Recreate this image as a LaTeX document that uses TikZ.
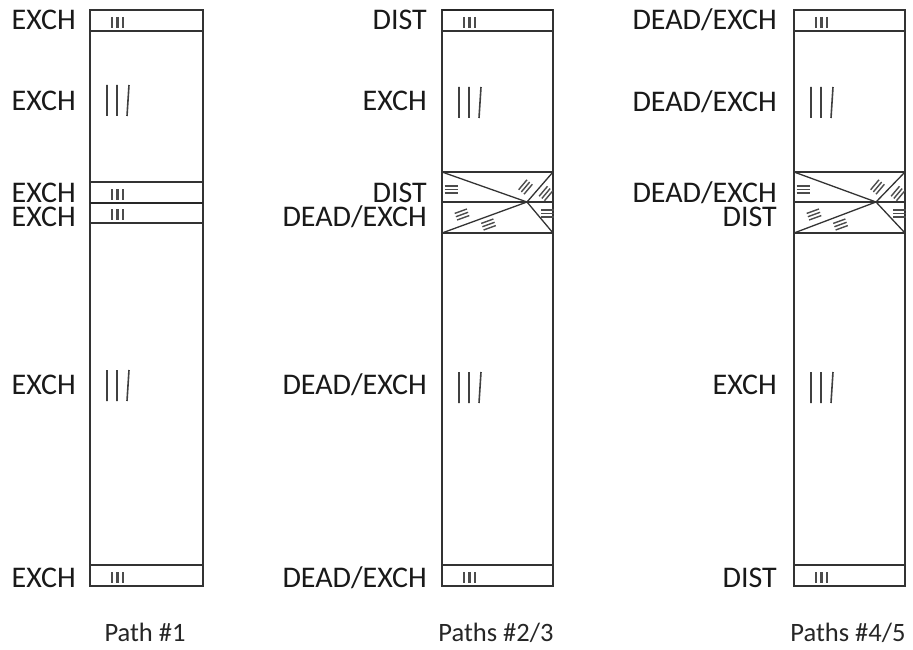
\documentclass[tikz,border=0pt]{standalone}
\usepackage{fontspec}
\setmainfont{Carlito}
\newcommand\smt[2]{\foreach \d in {22,27.5,33} \draw[tickm] ({#1+\d},#2) -- ++(0,11);}
\newcommand\bgt[2]{\draw[bigm] ({#1+17},#2) -- ++(0,31) ({#1+27},#2) -- ++(0,31) ({#1+39},#2) -- ++(-2,31);}
\newcommand\hgrp[3]{\begin{scope}[shift={(#1,#2)},rotate=#3]\draw[hatch] (-6.5,-3.5) -- (6.5,-3.5) (-6.5,0) -- (6.5,0) (-6.5,3.5) -- (6.5,3.5);\end{scope}}
\newcommand\xover[3]{% L, X, T
  \draw[box] (#1,#3) -- (#2,{#3+30}) -- ({#1+111},{#3+61});
  \draw[box] ({#1+111},#3) -- (#2,{#3+30}) -- (#1,{#3+61});
  \hgrp{#1+9}{#3+17.5}{0}
  \hgrp{#1+83.5}{#3+15}{50}
  \hgrp{#1+104}{#3+21.5}{50}
  \hgrp{#1+20}{#3+42.5}{20}
  \hgrp{#1+46.5}{#3+52.5}{20}
  \hgrp{#1+105.5}{#3+41.5}{0}
}
\begin{document}
\begin{tikzpicture}[x=1pt,y=-1pt,
  box/.style={draw=black!80,line width=1.3pt},
  thk/.style={draw=black!85,line width=2.6pt},
  tickm/.style={draw=black!70,line width=2.2pt},
  bigm/.style={draw=black!75,line width=1.6pt},
  hatch/.style={draw=black!70,line width=1.4pt},
  lbl/.style={font=\fontsize{30}{31}\selectfont,anchor=base east,inner sep=0pt,text=black!90,text height=19pt,text depth=0pt},
  captxt/.style={font=\fontsize{26.5}{27}\selectfont,anchor=base,inner sep=0pt,text=black!85}]
\useasboundingbox (0,0) rectangle (913,650);
% ---------- column 1 ----------
\draw[box] (90,10) rectangle (203,586);
\draw[box] (90,31) -- (203,31) (90,182) -- (203,182) (90,223) -- (203,223) (90,565) -- (203,565);
\draw[thk] (90,203) -- (203,203);
\smt{90}{17} \smt{90}{189} \smt{90}{209} \smt{90}{572}
\bgt{90}{85} \bgt{90}{370}
\node[lbl] (a1) at (76,30) {EXCH};
\node[lbl] (a2) at (76,111) {EXCH};
\node[lbl] (a3) at (76,202) {EXCH};
\node[lbl] (a4) at (76,226.5) {EXCH};
\node[lbl] (a5) at (76,394) {EXCH};
\node[lbl] (a6) at (76,587) {EXCH};
\node[captxt] (c1) at (145,641) {Path \#1};
% ---------- column 2 ----------
\draw[box] (442,10) rectangle (553,586);
\draw[thk] (442,10) -- (553,10);
\draw[box] (442,31) -- (553,31) (442,172) -- (553,172) (442,202) -- (553,202) (442,233) -- (553,233) (442,565) -- (553,565);
\xover{442}{527}{172}
\smt{442}{17} \smt{442}{572}
\bgt{442}{87} \bgt{442}{372}
\node[lbl] (b1) at (427,30) {DIST};
\node[lbl] (b2) at (427,111) {EXCH};
\node[lbl] (b3) at (427,202) {DIST};
\node[lbl] (b4) at (427,226.5) {DEAD/EXCH};
\node[lbl] (b5) at (427,394) {DEAD/EXCH};
\node[lbl] (b6) at (427,587) {DEAD/EXCH};
\node[captxt] (c2) at (496,641) {Paths \#2/3};
% ---------- column 3 ----------
\draw[box] (794,10) rectangle (905,586);
\draw[box] (794,31) -- (905,31) (794,172) -- (905,172) (794,202) -- (905,202) (794,233) -- (905,233) (794,565) -- (905,565);
\xover{794}{876}{172}
\smt{794}{17} \smt{794}{572}
\bgt{794}{87} \bgt{794}{372}
\node[lbl] (d1) at (777,30) {DEAD/EXCH};
\node[lbl] (d2) at (777,112) {DEAD/EXCH};
\node[lbl] (d3) at (777,202) {DEAD/EXCH};
\node[lbl] (d4) at (777,226.5) {DIST};
\node[lbl] (d5) at (777,394) {EXCH};
\node[lbl] (d6) at (777,587) {DIST};
\node[captxt] (c3) at (848,641) {Paths \#4/5};
\end{tikzpicture}
\end{document}
